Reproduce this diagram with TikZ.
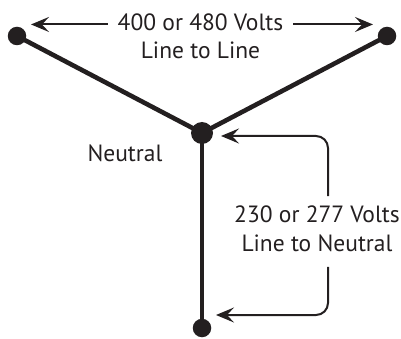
\documentclass[tikz,border=0pt]{standalone}
\usepackage{fontspec}
\setmainfont{PT Sans}
\usepackage{tikz}
\usetikzlibrary{positioning,arrows.meta}
\definecolor{colorink}{RGB}{35,31,32}

\begin{document}
\begin{tikzpicture}[
    x=1pt, y=-1pt,
    font={\fontsize{23.5}{28.5}\selectfont},
    terminal/.style={circle,fill=colorink,inner sep=0pt,minimum size=18.5pt},
    hub/.style={circle,fill=colorink,inner sep=0pt,minimum size=22pt},
    wire/.style={draw=colorink,line width=4.6pt},
    dimarrow/.style={draw=colorink,line width=2pt,-{Stealth[length=18pt,width=15pt,inset=7pt]}},
    caption/.style={text=colorink,align=center,inner sep=0pt},
]
    \useasboundingbox (0,0) rectangle (401,339);

    % Terminals
    \node[terminal] (l1) at (17,36) {};
    \node[terminal] (l2) at (387,36) {};
    \node[hub]      (n)  at (202,133) {};
    \node[terminal] (l3) at (202,328) {};

    % Wires
    \draw[wire] (l1.center) -- (n.center);
    \draw[wire] (l2.center) -- (n.center);
    \draw[wire] (n.center) -- (l3.center);

    % Labels
    \node[caption, inner xsep=10pt, anchor=base] (ll) at (200.5,30.7) {400 or 480 Volts};
    \node[caption, anchor=base] (lltext) at (200.5,58.3) {Line to Line};
    \node[caption] (neutral) at (125,153) {Neutral};
    \node[caption, inner ysep=10pt] (ln) at (317,229) {230 or 277 Volts\\Line to Neutral};

    % Arrow ends
    \coordinate (llstart1) at ([yshift=-2]ll.west);
    \coordinate (llstart2) at ([yshift=-2]ll.east);
    \coordinate (lltip1) at (llstart1 -| 31,0);
    \coordinate (lltip2) at (llstart2 -| 373,0);
    \coordinate (ntip)   at (221,136);
    \coordinate (l3tip)  at (216,315);

    % Dimensions
    \draw[dimarrow] (llstart1) -- (lltip1);
    \draw[dimarrow] (llstart2) -- (lltip2);
    \draw[dimarrow,rounded corners=12pt] ([xshift=11]ln.north) |- (ntip);
    \draw[dimarrow,rounded corners=12pt] ([xshift=11,yshift=-5]ln.south) |- (l3tip);

\end{tikzpicture}
\end{document}
